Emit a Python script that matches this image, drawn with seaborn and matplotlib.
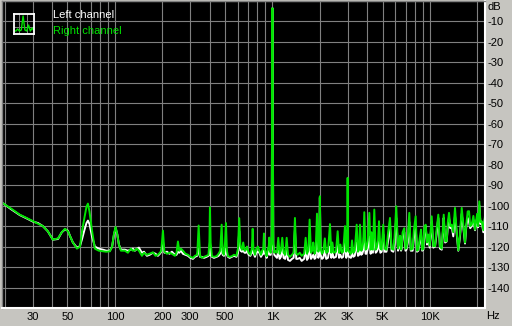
import matplotlib
matplotlib.use("Agg")
import matplotlib.pyplot as plt
import seaborn as sns
import pandas as pd

# ---------------- data ----------------
freq_low = [19.2, 22, 24.9, 27.5, 30.2, 32.5, 34.9, 37.5, 40.4, 43.5, 46, 48.2, 50.3, 52, 54.1, 57.4,
            60, 62, 64, 66, 67.4, 69, 71.5, 74.6, 79, 83.9, 88, 92.9, 96, 98.5, 101, 103.5, 106, 109.2]
right_low = [-98.5, -101.5, -104.4, -106, -107.6, -108.8, -110, -112.5, -116.6, -116, -113, -111.3, -112.5, -115, -118, -121,
             -120, -112, -106, -100.5, -99, -103, -112, -121, -122, -122.3, -122.5, -122.3, -120, -114, -110.4, -114, -119, -122]
left_low = [-98.5, -101.8, -104.6, -106.2, -107.8, -108.5, -110, -112.5, -116.6, -116.3, -113, -111.6, -112.2, -115, -118, -120.5,
            -119.8, -116, -112, -108.5, -107.3, -109, -115, -120, -121, -121.5, -122, -122, -120, -114.5, -110.8, -114, -119, -121.5]

freq_mid = [115.7, 120.9, 126.3, 130, 134, 138, 142, 148.4, 153, 159.6,
            166, 174.3, 181, 187.5, 193, 197, 201.8, 206, 213.9, 222,
            230, 240.4, 246, 251.2, 256, 262.4, 270.2, 280, 290.8, 301,
            312.8, 322, 333, 340, 347, 356, 368, 382, 392.5, 398,
            401, 405, 413, 425, 442.3, 455, 466, 475.9, 483, 492,
            500, 506.8, 514, 521.8, 535, 553, 570, 590.6, 604, 615.2,
            626, 640, 652, 665, 678.6, 690, 705, 724.5, 740, 748.8,
            757, 774.3, 790, 809, 825, 845.2, 860, 874, 883, 892,
            905, 918.5, 935, 947, 954.5, 962, 975, 988, 996, 1000,
            1004, 1012, 1027]
right_mid = [-122, -123, -121, -122, -121.8, -121, -122, -124.5, -123, -124,
             -123.5, -122.8, -124.5, -124, -123, -122, -112.2, -122.5, -123.5, -123,
             -123.5, -124.5, -123, -117.5, -122, -121, -122, -123.5, -124, -125,
             -125.5, -124.5, -124, -109.7, -124.5, -125.5, -125, -124.5, -124, -118,
             -100.8, -118, -124.7, -125, -124.7, -123.5, -122, -109.3, -123, -124,
             -118, -108.5, -122, -124.7, -125, -124.7, -124, -124.5, -121, -106.1,
             -120, -121.5, -118, -122, -121.5, -120, -123, -124, -121, -111.3,
             -121, -124, -121, -120, -122, -124, -122, -121, -113.6, -121,
             -123, -124.7, -121, -120, -115.6, -122, -123, -118, -40, -3.5,
             -40, -118, -123]
left_mid = [-121.5, -122, -121.5, -121, -122, -121, -120.5, -123, -122.5, -124.5,
            -124, -123, -123.5, -124.5, -123.5, -122.5, -117.5, -123, -122.5, -123.5,
            -122.5, -124, -124, -122.5, -123, -122, -123.5, -124, -124.5, -125.5,
            -126, -125, -124.5, -121, -125, -125, -125.5, -125, -124.5, -124,
            -118, -124, -125, -125.5, -125, -124.5, -123.5, -121, -124, -124.5,
            -123.5, -121, -124, -125, -125.5, -125, -124.5, -125, -123, -112.5,
            -122, -122.5, -122, -123, -123, -122, -124, -124.5, -123, -119,
            -123, -125, -123, -122.5, -123, -125, -124, -123.5, -121, -123,
            -124, -125.5, -123.5, -123, -122, -124, -124, -119, -40, -3.5,
            -40, -119, -124]

freq_khz = [1040, 1068, 1089, 1110, 1132, 1154, 1177, 1205, 1231, 1255,
            1291, 1330, 1362, 1389, 1416, 1445, 1490, 1532, 1590, 1624,
            1656, 1690, 1722, 1756, 1790, 1816, 1850, 1880, 1917, 1955,
            1980, 2000, 2020, 2062, 2100, 2150, 2193, 2250, 2318, 2364,
            2400, 2450, 2530, 2594, 2646, 2700, 2750, 2810, 2886, 2940,
            2975, 3000, 3025, 3060, 3149, 3200, 3260, 3330, 3424, 3490,
            3550, 3594, 3660, 3717, 3770, 3828, 3900, 3953, 4030, 4119,
            4200, 4253, 4340, 4430, 4520, 4588, 4680, 4746, 4840, 4934,
            5051, 5150]
right_khz = [-122, -123, -115.7, -123.5, -122, -115.7, -123, -124, -115.7, -124,
             -125, -124, -123, -106, -123.5, -124, -123, -124.5, -123.5, -115.7,
             -123.5, -122, -106.8, -123, -122, -118, -123.5, -122, -103.9, -122.5,
             -121, -95.4, -121, -123.5, -122.5, -116, -123, -122.5, -109, -123,
             -118, -123, -122.5, -112.5, -123, -119, -123, -122.5, -110, -122.5,
             -121, -86.4, -121, -122.5, -123.5, -117, -123, -122, -109.3, -122.5,
             -121.5, -109.3, -122, -121, -118, -103.2, -121.5, -121, -117, -103.5,
             -121.5, -113, -121.5, -101.9, -121.5, -120.5, -117, -107.6, -121, -121.5,
             -109.3, -121]
left_khz = [-124.5, -125.5, -122, -126, -125, -120, -125.5, -126, -121, -126.5,
            -127, -126, -125.5, -112, -126, -126, -125.5, -127, -126, -121,
            -126.5, -125.5, -118, -126, -125, -124, -126, -125.5, -115, -125.5,
            -124, -96, -124, -126, -125.5, -122, -126, -125.5, -120, -125.5,
            -123, -125.5, -125, -119, -125.5, -124, -125.5, -125, -118, -125.5,
            -124, -112, -124, -125, -125.5, -123, -125, -124.5, -118, -124.5,
            -124, -119, -124, -123.5, -122, -112, -123.5, -123.5, -121, -115,
            -123.5, -118, -123, -112, -123, -122.5, -121, -117, -123, -122.5,
            -114, -122.5]

freq_high = [5293, 5420, 5572, 5700, 5848, 5950, 6109, 6266, 6350, 6450,
             6550, 6610, 6700, 6867, 6990, 7092, 7230, 7388, 7550, 7762,
             7900, 8110, 8270, 8430, 8600, 8770, 8920, 9068, 9230, 9392,
             9570, 9757, 9950, 10250, 10500, 10760, 11000, 11290, 11570, 11870,
             12050, 12220, 12480, 12760, 12980, 13200, 13460, 13730, 14050, 14410,
             14750, 15120, 15500, 15900, 16300, 16680, 17000, 17350, 17690, 18000,
             18400, 18850, 19310, 19900, 20200, 20560, 20900, 21290, 21800, 22340]
right_high = [-121.5, -113, -106, -121, -121.5, -116, -100.3, -121, -119, -114.7,
              -121.5, -120, -113, -111, -121, -120.5, -115, -103.5, -121.5, -121,
              -112, -105.2, -122, -121.5, -116, -111.7, -121.5, -121, -110, -109.3,
              -118, -114.1, -119.5, -105.2, -119.8, -119.8, -112, -104.4, -120, -121,
              -112, -104.4, -117.4, -117.4, -108, -103.5, -110, -109.3, -113, -101.1,
              -112, -121.8, -114, -101.1, -110, -118, -109, -102.8, -102.7, -110,
              -109.3, -105, -111.7, -104, -110, -97.9, -108, -107.6, -112, -105]
left_high = [-122.5, -117, -110, -122, -122.5, -119, -106, -122, -120.5, -116,
             -122, -121, -115, -113, -122, -121.5, -118, -108, -122, -122,
             -116, -110, -122.5, -122, -118, -114, -122, -121.5, -113, -110,
             -119, -116, -120.5, -108, -120.5, -120, -114, -106, -121, -121.5,
             -114, -106, -118, -117.5, -110, -106, -111, -110, -115, -105,
             -113, -122, -115, -104, -111, -118.5, -110, -106, -108, -111,
             -110, -107, -112, -106, -110.5, -100, -109, -108, -113, -106]

db_ticks = [0, -10, -20, -30, -40, -50, -60, -70, -80, -90, -100, -110, -120, -130, -140]
db_labels = ["", "-10", "-20", "-30", "-40", "-50", "-60", "-70", "-80", "-90",
             "-100", "-110", "-120", "-130", "-140"]
unit_db = "dB"
unit_hz = "Hz"
hz_ticks = [30, 50, 100, 200, 300, 500, 1000, 2000, 3000, 5000, 10000]
hz_labels = ["30", "50", "100", "200", "300", "500", "1K", "2K", "3K", "5K", "10K"]
hz_grid = [20, 40, 60, 70, 80, 90, 400, 600, 700, 800, 900,
           4000, 6000, 7000, 8000, 9000, 20000]
channels = ["Left channel", "Right channel"]
icon_y = [0.15, 0.15, 0.25, 0.15, 0.2, 0.9, 0.2, 0.15, 0.45, 0.15, 0.3, 0.15]

# ---------------- assemble ----------------
freq = freq_low + freq_mid + freq_khz + freq_high
left = left_low + left_mid + left_khz + left_high
right = right_low + right_mid + right_khz + right_high
assert len(freq) == len(left) == len(right)

df = pd.concat([
    pd.DataFrame({"freq": freq, "db": left, "channel": channels[0]}),
    pd.DataFrame({"freq": freq, "db": right, "channel": channels[1]}),
])

BG = "#c6c5c0"
GREEN = "#00e400"
GRID = "#808080"

sns.set_style("dark")
plt.rcParams["font.family"] = ["Liberation Sans", "DejaVu Sans"]

fig = plt.figure(figsize=(5.12, 3.26), dpi=100, facecolor=BG)
W, H = 512, 326
ax = fig.add_axes([2 / W, 1 - 308 / H, 483 / W, 307 / H])
ax.set_facecolor("black")

sns.lineplot(data=df, x="freq", y="db", hue="channel", hue_order=channels,
             palette={channels[0]: "white", channels[1]: GREEN},
             estimator=None, sort=False, legend=False, lw=1.4, ax=ax)

ax.set_xscale("log")
ax.set_xlim(19.2, 22340)
ax.set_ylim(-150, 0)

ax.set_xticks(hz_ticks)
ax.set_xticklabels(hz_labels)
ax.set_xticks(hz_grid, minor=True)
ax.xaxis.set_minor_formatter(matplotlib.ticker.NullFormatter())
ax.set_yticks(db_ticks)
ax.set_yticklabels(db_labels)
ax.yaxis.tick_right()
ax.tick_params(axis="both", which="both", length=0, labelsize=8, colors="black")
ax.tick_params(axis="x", pad=3)
ax.tick_params(axis="y", pad=1.5)
ax.grid(which="both", color=GRID, lw=0.8)
ax.set_axisbelow(True)
ax.set_xlabel("")
ax.set_ylabel("")

for s in ["top", "left"]:
    ax.spines[s].set_color(GRID)
    ax.spines[s].set_linewidth(1.0)
for s in ["right", "bottom"]:
    ax.spines[s].set_color("white")
    ax.spines[s].set_linewidth(1.5)

fig.text(487 / W, 1 - 7.5 / H, unit_db, fontsize=8, va="center", ha="left", color="black")
fig.text(486 / W, 1 - 316 / H, unit_hz, fontsize=8, va="center", ha="left", color="black")

# legend
iax = fig.add_axes([14 / W, 1 - 34 / H, 20 / W, 20 / H])
iax.set_facecolor("black")
iax.set_xlim(0, len(icon_y) - 1)
iax.set_ylim(0, 1)
for v in [0.33, 0.66]:
    iax.axhline(v, color=GRID, lw=0.7)
for v in [3, 7]:
    iax.axvline(v, color=GRID, lw=0.7)
sns.lineplot(x=list(range(len(icon_y))), y=icon_y, color=GREEN, lw=1.0, ax=iax)
iax.set_xticks([])
iax.set_yticks([])
iax.set_xlabel("")
iax.set_ylabel("")
for s in iax.spines.values():
    s.set_color("white")
    s.set_linewidth(1.3)

fig.text(53 / W, 1 - 15 / H, channels[0], color="white", fontsize=8, va="center", ha="left")
fig.text(53 / W, 1 - 31 / H, channels[1], color=GREEN, fontsize=8, va="center", ha="left")

fig.savefig("out.png", dpi=100, facecolor=BG)
